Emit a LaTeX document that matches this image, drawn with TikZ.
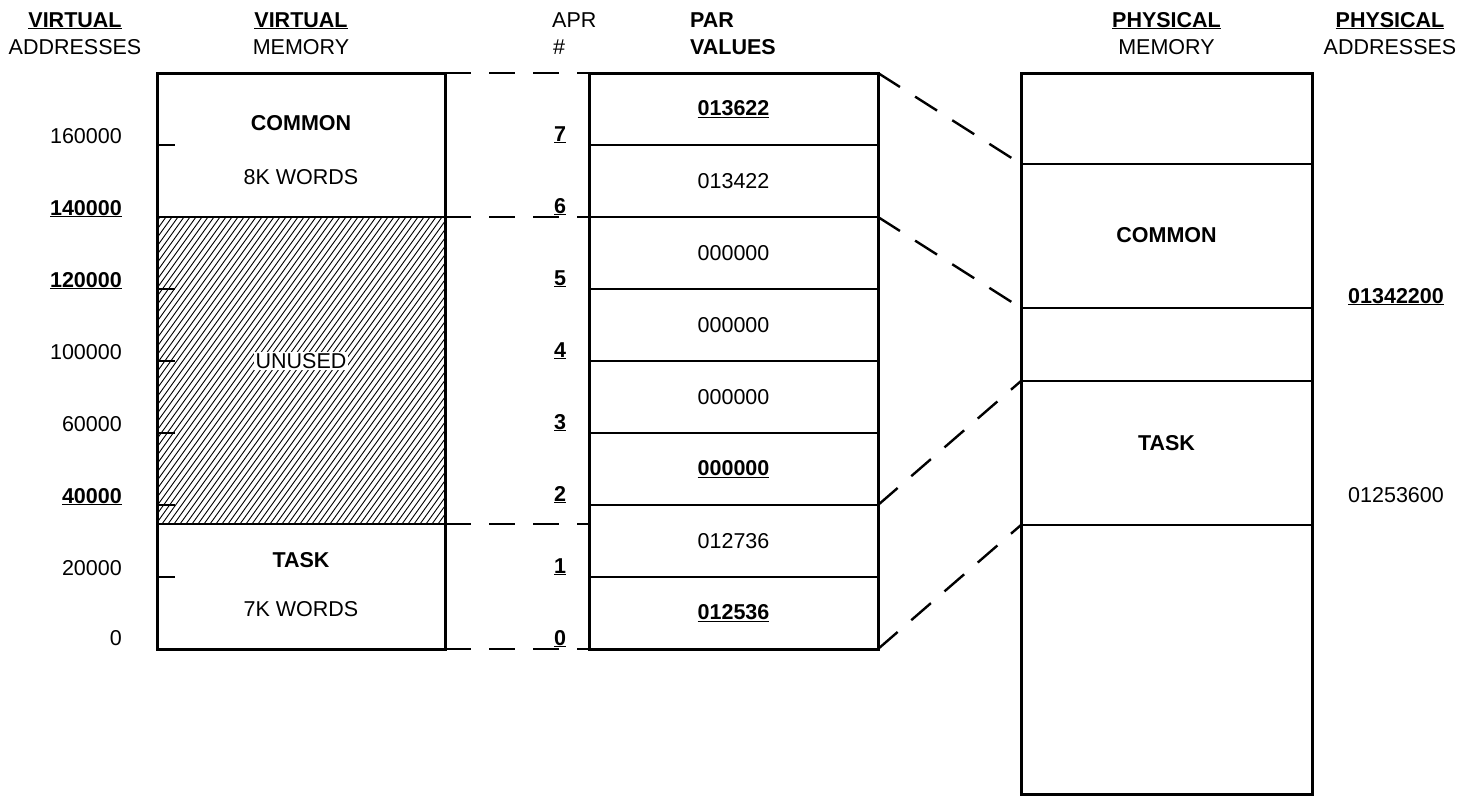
\documentclass[tikz,border=0pt]{standalone}
\usepackage{fontspec}
\setmainfont{Liberation Sans}
\usetikzlibrary{positioning}

\newcommand{\marked}[1]{\underline{\textbf{#1}}}

\begin{document}
\begin{tikzpicture}[
  x=1pt, y=-1pt,
  font=\fontsize{21.5}{26}\selectfont,
  region/.style={draw=black, line width=1.8pt, inner sep=0pt, outer sep=0pt},
  frame/.style={draw=black, line width=3pt},
  link/.style={line width=2.4pt, dash pattern=on 26pt off 18pt},
  tick/.style={line width=2.4pt},
  hatchline/.style={line width=0.9pt},
  lbl/.style={inner sep=0pt, anchor=base},
  addr/.style={inner sep=0pt, anchor=base east}
]
  \useasboundingbox (0,0) rectangle (1458,796);

  \node[lbl] (vahead) at (75,27) {\marked{VIRTUAL}};
  \node[lbl] (vasub) at (75,54) {ADDRESSES};
  \node[lbl] (vmhead) at (301,27) {\marked{VIRTUAL}};
  \node[lbl] (vmsub) at (301,54) {MEMORY};
  \node[inner sep=0pt, anchor=base west] (aprhead) at (552,27) {APR};
  \node[inner sep=0pt, anchor=base west] (aprsub) at (553,54) {\#};
  \node[inner sep=0pt, anchor=base west] (parhead) at (690,27) {\textbf{PAR}};
  \node[inner sep=0pt, anchor=base west] (parsub) at (690,54) {\textbf{VALUES}};
  \node[lbl] (pmhead) at (1166.5,27) {\marked{PHYSICAL}};
  \node[lbl] (pmsub) at (1166.5,54) {MEMORY};
  \node[lbl] (pahead) at (1390,27) {\marked{PHYSICAL}};
  \node[lbl] (pasub) at (1390,54) {ADDRESSES};

  \node[region, minimum width=288pt, minimum height=144pt] (vcommon) at (301,145) {};
  \node[region, minimum width=288pt, minimum height=307pt, below=0pt of vcommon] (vunused) {};
  \node[region, minimum width=288pt, minimum height=125pt, below=0pt of vunused] (vtask) {};

  \begin{scope}
    \clip (vunused.north west) rectangle (vunused.south east);
    \foreach \hx in {-66,-60,...,450}
      \draw[hatchline] (\hx,524) -- ++(220,-307);
  \end{scope}
  \node[fill=white, inner sep=1.5pt] (unusedlbl) at (301,361) {UNUSED};

  \node (vcommonname) at (301,123) {\textbf{COMMON}};
  \node (vcommonsize) at (301,177) {8K WORDS};
  \node (vtaskname) at (301,560) {\textbf{TASK}};
  \node (vtasksize) at (301,609) {7K WORDS};

  \draw[frame] (vcommon.north west) rectangle (vtask.south east);
  \foreach \ya in {145,289,361,433,505,577}
    \draw[tick] (157,\ya) -- ++(18,0);

  \foreach \ya/\txt in {145/160000, 217/\marked{140000}, 289/\marked{120000}, 361/100000,
                        433/60000, 505/\marked{40000}, 577/20000}
    \node[addr] (va\ya) at (122,\ya-2) {\txt};
  \node[addr] (va0) at (122,645) {0};

  \foreach \k/\v in {7/\marked{013622}, 6/013422, 5/000000, 4/000000,
                     3/000000, 2/\marked{000000}, 1/012736, 0/\marked{012536}}
    \node[region, minimum width=289pt, minimum height=72pt] (par\k) at (733.5,{109+72*(7-\k)}) {\v};
  \draw[frame] (par7.north west) rectangle (par0.south east);

  \foreach \k in {0,...,7}
    \node[lbl] (apr\k) at (560,{649-72*\k-4}) {\marked{\k}};

  \node[region, minimum width=291pt, minimum height=91pt] (ptop) at (1166.5,118.5) {};
  \node[region, minimum width=291pt, minimum height=144pt, below=0pt of ptop] (pcommon) {};
  \node[region, minimum width=291pt, minimum height=73pt, below=0pt of pcommon] (pgap) {};
  \node[region, minimum width=291pt, minimum height=144pt, below=0pt of pgap] (ptask) {};
  \node[region, minimum width=291pt, minimum height=269pt, below=0pt of ptask] (pfree) {};
  \draw[frame] (ptop.north west) rectangle (pfree.south east);

  \node (pcommonname) at (1166.5,235) {\textbf{COMMON}};
  \node (ptaskname) at (1166.5,443) {\textbf{TASK}};

  \node[lbl] (pacommon) at (1396,303) {\marked{01342200}};
  \node[lbl] (patask) at (1396,502) {01253600};

  \draw[link] (vcommon.north east) -- (par7.north west);
  \draw[link] (vcommon.south east) -- (par6.south west);
  \draw[link] (vtask.north east) -- (vtask.north east -| par1.west);
  \draw[link] (vtask.south east) -- (par0.south west);
  \draw[link] (par7.north east) -- (ptop.south west);
  \draw[link] (par6.south east) -- (pcommon.south west);
  \draw[link] (par2.south east) -- (pgap.south west);
  \draw[link] (par0.south east) -- (ptask.south west);
\end{tikzpicture}
\end{document}
